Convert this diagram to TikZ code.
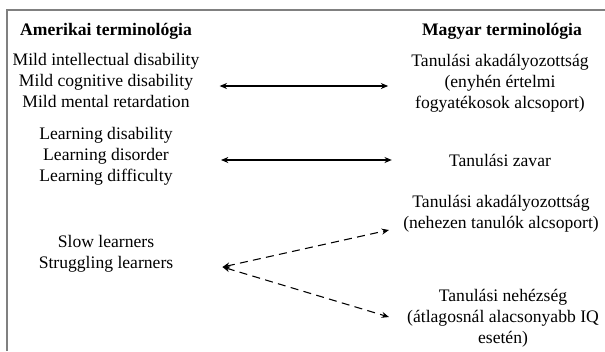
\documentclass[tikz,border=0pt]{standalone}
\usepackage{fontspec}
\setmainfont{Liberation Serif}
\usetikzlibrary{arrows.meta,positioning,calc}

\tikzset{
  term/.style={align=center, inner sep=0pt, anchor=base, font=\fontsize{13.2}{15.4}\selectfont},
  head/.style={term, font=\fontsize{13.2}{15.4}\selectfont\bfseries},
  biarrow/.style={{Stealth[length=5.5pt,width=4.5pt]}-{Stealth[length=5.5pt,width=4.5pt]}, line width=0.8pt},
  dasharrow/.style={biarrow, dash pattern=on 6pt off 4pt}
}

\begin{document}
\begin{tikzpicture}[x=0.75pt,y=-0.75pt]
    \useasboundingbox (0,0) rectangle (605,351);

    % Frame
    \draw[black!50, line width=1.1pt] (7,351) -- (7,10) -- (605,10);

    % Headings
    \node[head] (amhead) at (106,35) {Amerikai terminológia};
    \node[head] (huhead) at (502,35) {Magyar terminológia};

    % American terms (base = last line)
    \node[term] (l1) at (106,107) {Mild intellectual disability\\Mild cognitive disability\\Mild mental retardation};
    \node[term] (l2) at (106,181) {Learning disability\\Learning disorder\\Learning difficulty};
    \node[term] (l3) at (106,268) {Slow learners\\Struggling learners};

    % Hungarian terms
    \node[term] (r1) at (500,108) {Tanulási akadályozottság\\(enyhén értelmi\\fogyatékosok alcsoport)};
    \node[term] (r2) at (500,166) {Tanulási zavar};
    \node[term] (r3) at (501,228) {Tanulási akadályozottság\\(nehezen tanulók alcsoport)};
    \node[term] (r4) at (503,343) {Tanulási nehézség\\(átlagosnál alacsonyabb IQ\\esetén)};

    % Equivalences
    \draw[biarrow] ($(l1.east |- 0,86)+(20,0)$) -- ($(r1.west |- 0,86)+(-23,0)$);
    \draw[biarrow] ($(l2.east |- 0,160)+(48,0)$) -- ($(r2.west |- 0,160)+(-57,0)$);

    % Partial overlaps
    \draw[dasharrow] ($(l3.east |- 0,267)+(49,0)$) -- ($(r3.west |- 0,230)+(-14,0)$);
    \draw[dasharrow] ($(l3.east |- 0,267)+(49,0)$) -- ($(r4.west |- 0,317)+(-18,0)$);
\end{tikzpicture}
\end{document}
